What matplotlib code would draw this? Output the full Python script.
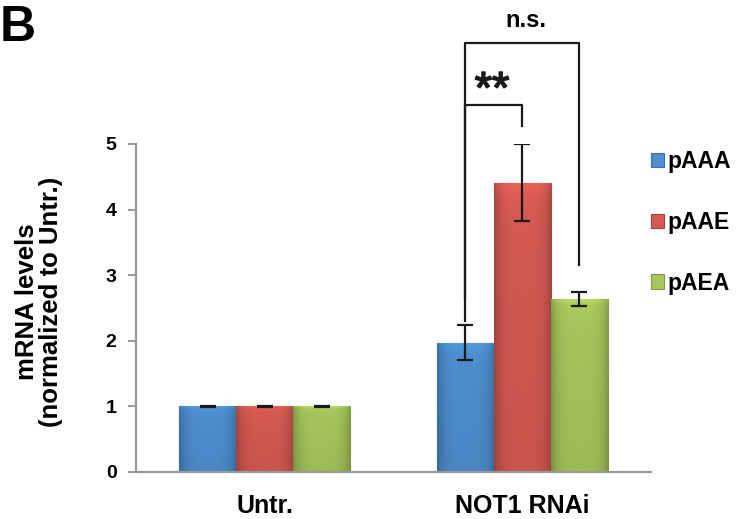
import matplotlib
matplotlib.use("Agg")
import matplotlib.pyplot as plt
import matplotlib.colors as mcolors
import matplotlib.patheffects as pe
import numpy as np

plt.rcParams['font.family'] = ['Liberation Sans', 'DejaVu Sans']

categories = ["Untr.", "NOT1 RNAi"]
series = ["pAAA", "pAAE", "pAEA"]
values = {
    "pAAA": [1.0, 1.97],
    "pAAE": [1.0, 4.41],
    "pAEA": [1.0, 2.64],
}
errors = {
    "pAAA": [0.01, 0.27],
    "pAAE": [0.01, 0.59],
    "pAEA": [0.01, 0.11],
}
colors = {"pAAA": "#4d8fd0", "pAAE": "#d55a52", "pAEA": "#a5c75c"}
edges = {"pAAA": "#3a6fa8", "pAAE": "#a8403b", "pAEA": "#7d9c45"}
yticks = [0, 1, 2, 3, 4, 5]

W, H = 736, 519
fig = plt.figure(figsize=(W / 100, H / 100), dpi=100)
ax = fig.add_axes([136 / W, 1 - 472 / H, 515 / W, (472 - 144) / H])


def shade(rect, color):
    """Glossy gradient fill clipped to a bar."""
    x0, y0 = rect.get_x(), rect.get_y()
    bw, bh = rect.get_width(), rect.get_height()
    base = np.array(mcolors.to_rgb(color))
    u = np.linspace(0, 1, 60)
    hprof = 1.0 - 0.22 * np.abs(2 * u - 1) ** 4
    v = np.linspace(0, 1, 80)  # 0 = top row of image
    vprof = 1.0 + 0.10 * np.exp(-v * 25) - 0.06 * v
    fac = vprof[:, None] * hprof[None, :]
    img = np.clip(base[None, None, :] * fac[:, :, None], 0, 1)
    im = ax.imshow(img, extent=[x0, x0 + bw, y0, y0 + bh], aspect='auto',
                   origin='upper', zorder=2.1, interpolation='bilinear')
    im.set_clip_path(rect)


x = np.arange(len(categories))
w = 0.222
for i, s in enumerate(series):
    pos = x + (i - 1) * w
    bars = ax.bar(pos, values[s], width=w, color=colors[s], edgecolor=edges[s],
                  linewidth=0.8, label=s, zorder=2)
    for r in bars:
        shade(r, colors[s])
    ax.errorbar(pos, values[s], yerr=errors[s], fmt='none', ecolor='#1a1a1a',
                elinewidth=1.6, capsize=5.5, capthick=1.6, zorder=3)

ax.set_xlim(-0.5, 1.5)
ax.set_ylim(0, 5)
ax.set_yticks(yticks)
ax.set_yticklabels([str(t) for t in yticks], fontsize=14, fontweight='bold')
ax.set_xticks(x)
ax.set_xticklabels(categories, fontsize=18, fontweight='bold')
ax.tick_params(axis='x', length=0, pad=16)
ax.tick_params(axis='y', length=6, color='#999999', width=1.4, pad=8)
for sp in ['top', 'right']:
    ax.spines[sp].set_visible(False)
for sp in ['left', 'bottom']:
    ax.spines[sp].set_color('#999999')
    ax.spines[sp].set_linewidth(1.6)

ax.set_ylabel("mRNA levels\n(normalized to Untr.)", fontsize=18.5, fontweight='bold',
              linespacing=1.0)
ax.yaxis.set_label_coords(-0.142, 0.52)

# significance brackets
xb = x[1] - w
xr = x[1]
xg = x[1] + w
kw = dict(color='#1a1a1a', lw=1.6, clip_on=False, zorder=4)
ax.plot([xb, xb, xg, xg], [2.64, 6.54, 6.54, 3.16], **kw)
ax.plot([xb, xb, xr, xr], [2.30, 5.59, 5.59, 5.27], **kw)
ax.text(0.8825, 5.63, "**", ha='center', va='baseline', fontsize=32,
        fontweight='normal', clip_on=False, color='#1a1a1a',
        path_effects=[pe.withStroke(linewidth=1.2, foreground='#1a1a1a')])
ax.text(1.0146, 6.89, "n.s.", ha='center', va='center', fontsize=17,
        fontweight='bold', clip_on=False)

# legend
ax.legend(loc='upper left', bbox_to_anchor=(651 / W, 1 - 150 / H),
          bbox_transform=fig.transFigure, frameon=False, borderpad=0,
          borderaxespad=0, prop={'weight': 'bold', 'size': 16.5},
          handlelength=0.57, handleheight=0.57, handletextpad=0.15,
          labelspacing=1.65)

fig.text(0 / W, 1 - 41 / H, "B", fontsize=36, fontweight='bold', va='baseline',
         ha='left')

fig.savefig("out.png", dpi=100)
